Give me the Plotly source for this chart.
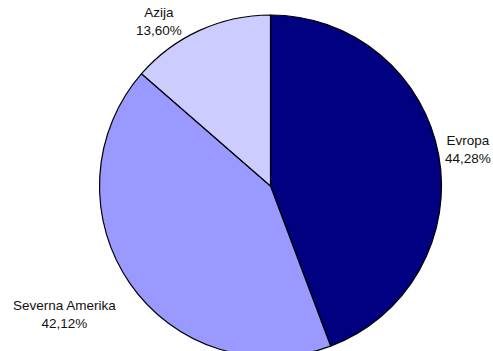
import plotly.graph_objects as go

# Data
labels = ["Evropa", "Severna Amerika", "Azija"]
values = [44.28, 42.12, 13.60]
colors = ["#000080", "#9999FF", "#CCCCFF"]

W, H = 493, 372

# label block centres in pixels (layout positions)
label_pos = [(467.5, 149), (64.3, 314), (158.8, 21.5)]

fig = go.Figure(go.Pie(
    labels=labels,
    values=values,
    marker=dict(colors=colors, line=dict(color="black", width=1.2)),
    sort=False,
    direction="clockwise",
    rotation=0,
    textinfo="none",
    hoverinfo="label+percent",
    showlegend=False,
    domain=dict(x=[99.3 / W, 441.7 / W], y=[1 - 357 / H, 1 - 15 / H]),
))

annotations = []
for lab, val, (px, py) in zip(labels, values, label_pos):
    txt = f"{lab}<br>{val:.2f}%".replace(".", ",")
    annotations.append(dict(
        text=txt, x=px / W, y=1 - py / H, xref="paper", yref="paper",
        xanchor="center", yanchor="middle", showarrow=False,
        font=dict(family="Liberation Sans, Arial, sans-serif", size=13.5, color="#111111"),
        align="center",
    ))

fig.update_layout(
    width=W, height=H,
    margin=dict(l=0, r=0, t=0, b=0),
    paper_bgcolor="white", plot_bgcolor="white",
    annotations=annotations,
)

fig.write_html(
    "out.html",
    config={"displayModeBar": False},
    post_script="document.body.style.margin='0';document.body.style.overflow='hidden';"
                "document.documentElement.style.overflow='hidden';",
)
